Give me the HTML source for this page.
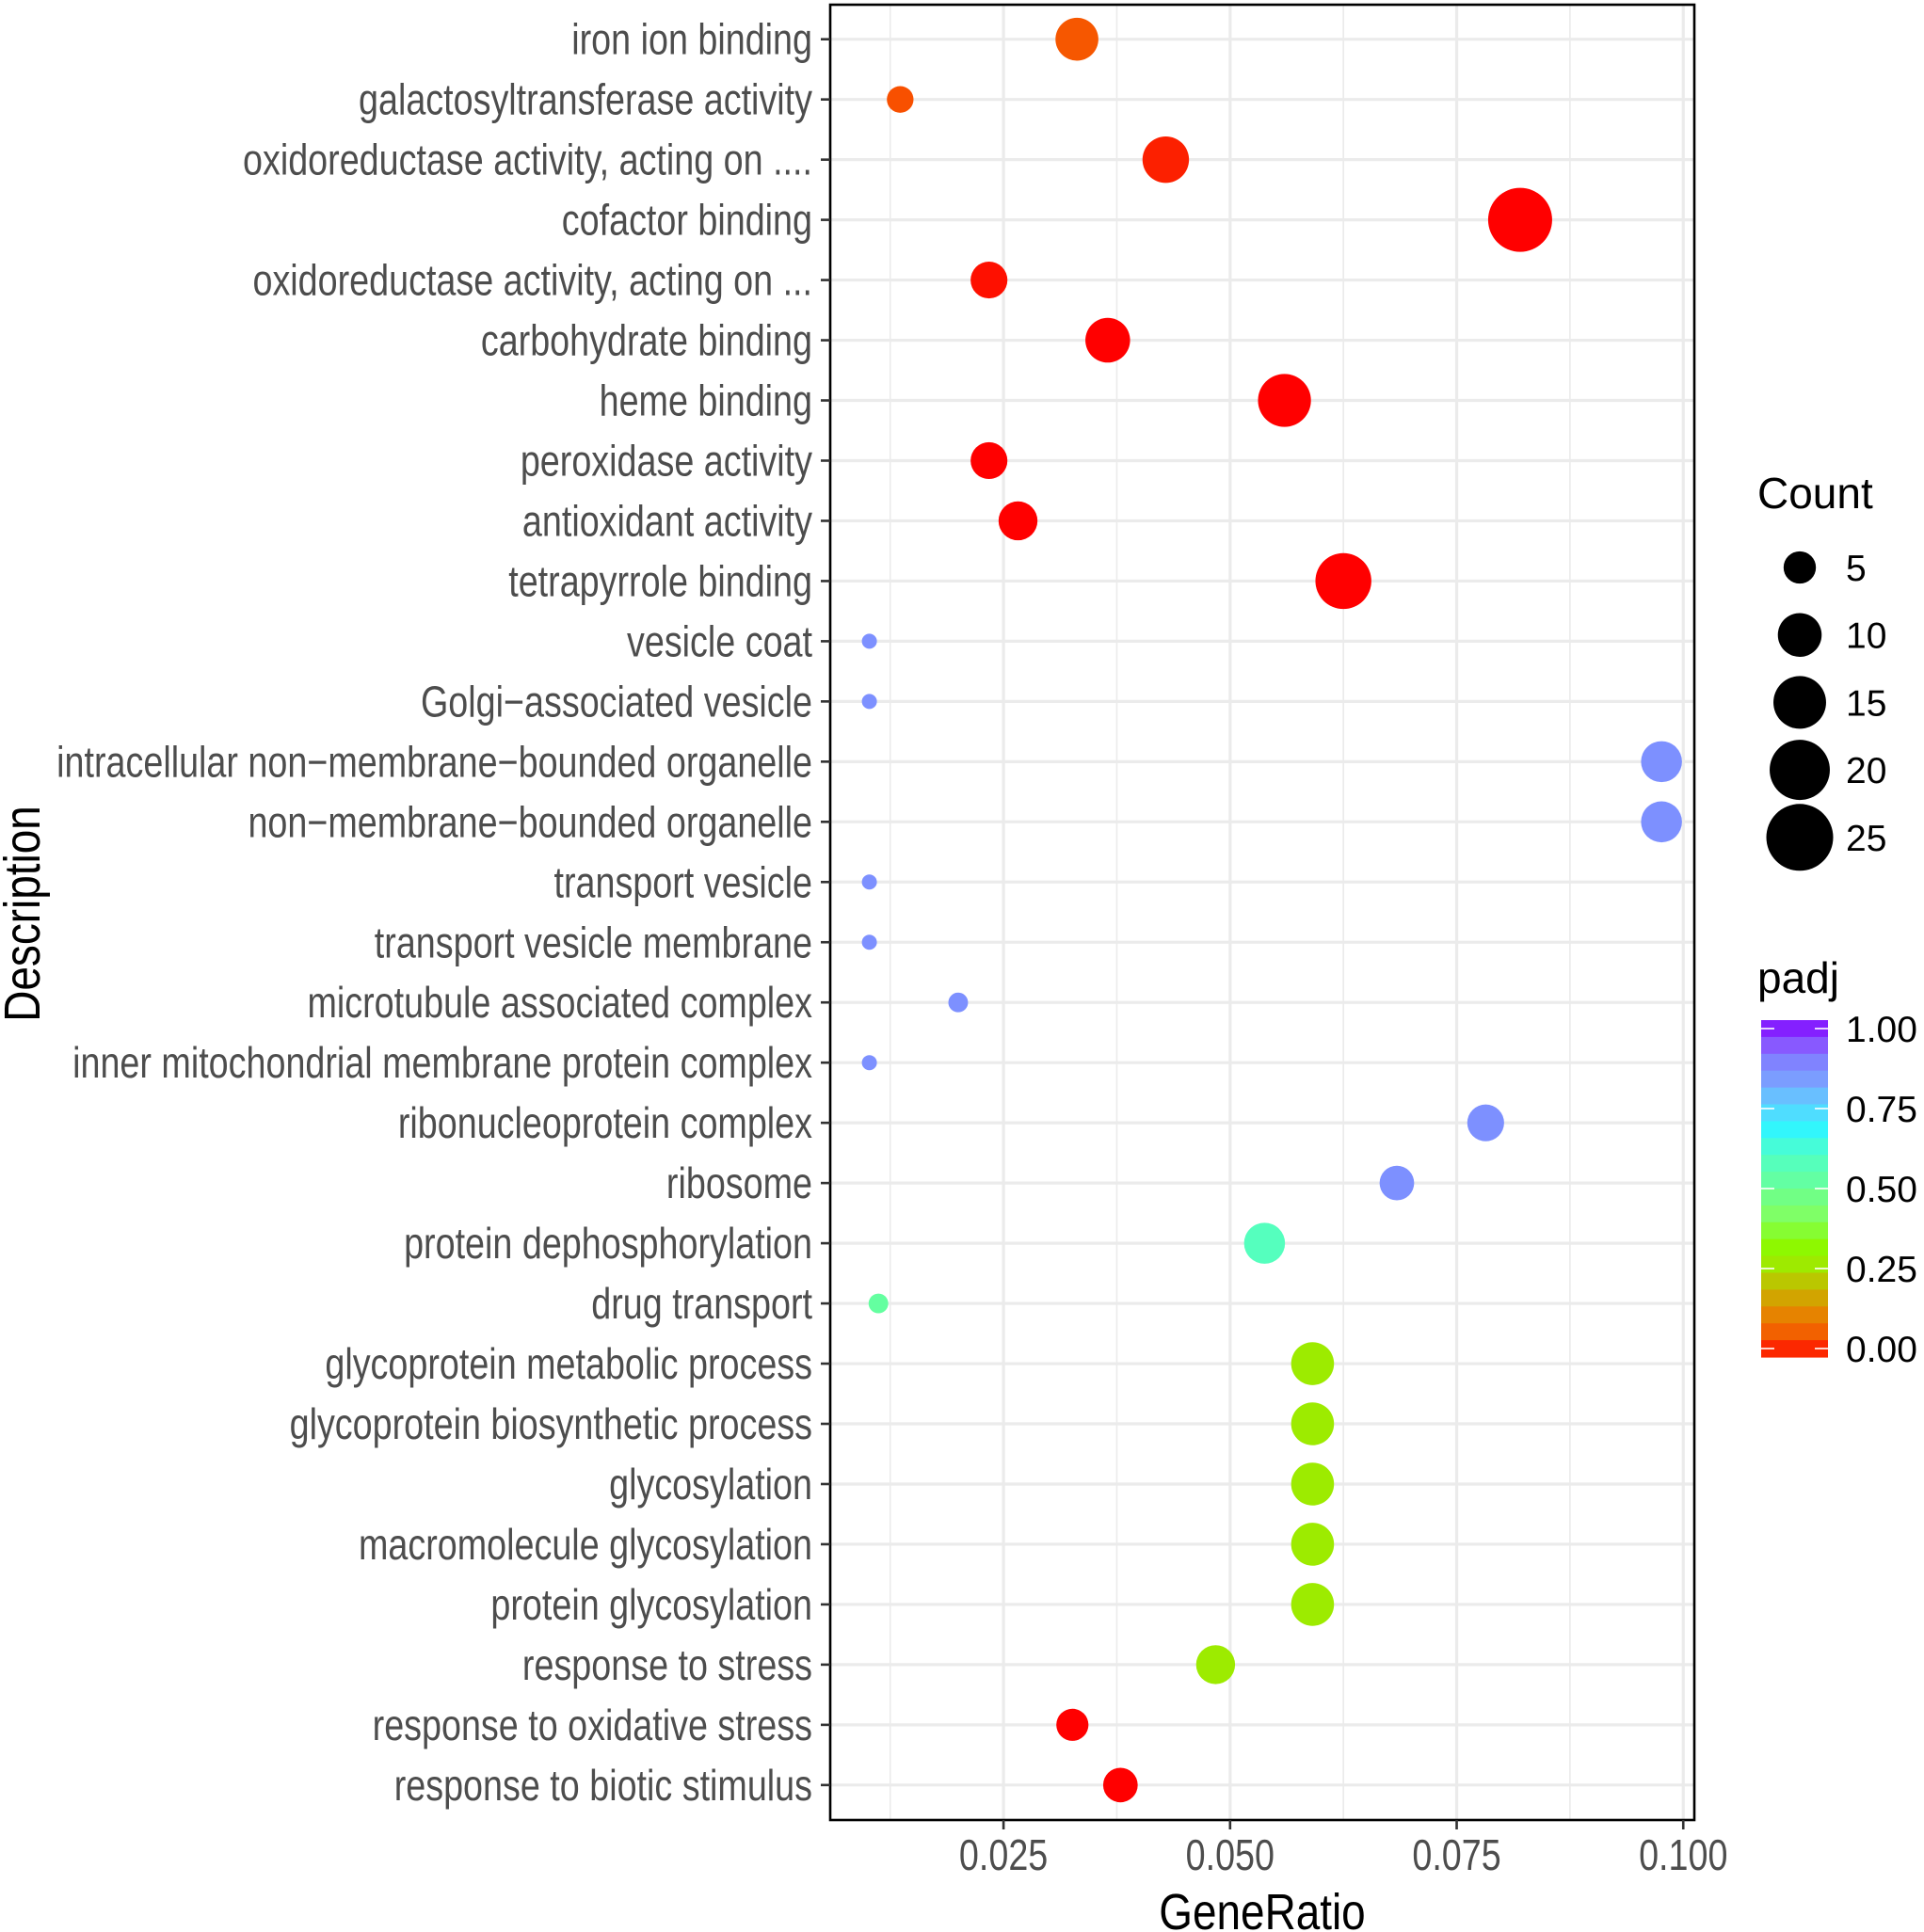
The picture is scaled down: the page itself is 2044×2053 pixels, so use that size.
<!DOCTYPE html>
<html><head><meta charset="utf-8"><style>
html,body{margin:0;padding:0;background:#fff}
svg{display:block}
.yl{font-family:"Liberation Sans Narrow","Liberation Sans",sans-serif;font-size:46px;fill:#4d4d4d}
.lg{font-family:"Liberation Sans",sans-serif;fill:#000}
</style></head><body>
<svg id="chart" width="2044" height="2053" viewBox="0 0 2044 2053" xmlns="http://www.w3.org/2000/svg">
<rect x="0" y="0" width="2044" height="2053" fill="#fff"/>
<g id="grid"></g><g id="points"></g><g id="axes"></g><g id="legend"></g>
</svg>
<script>
const categories = ["iron ion binding","galactosyltransferase activity","oxidoreductase activity, acting on ....","cofactor binding","oxidoreductase activity, acting on ...","carbohydrate binding","heme binding","peroxidase activity","antioxidant activity","tetrapyrrole binding","vesicle coat","Golgi\u2212associated vesicle","intracellular non\u2212membrane\u2212bounded organelle","non\u2212membrane\u2212bounded organelle","transport vesicle","transport vesicle membrane","microtubule associated complex","inner mitochondrial membrane protein complex","ribonucleoprotein complex","ribosome","protein dephosphorylation","drug transport","glycoprotein metabolic process","glycoprotein biosynthetic process","glycosylation","macromolecule glycosylation","protein glycosylation","response to stress","response to oxidative stress","response to biotic stimulus"];
const geneRatio = [0.0331,0.0136,0.0429,0.0820,0.0234,0.0365,0.0560,0.0234,0.0266,0.0625,0.0102,0.0102,0.0976,0.0976,0.0102,0.0102,0.0200,0.0102,0.0782,0.0684,0.0538,0.0112,0.0591,0.0591,0.0591,0.0591,0.0591,0.0484,0.0326,0.0379];
const counts = [11,4,13,25,8,12,17,8,9,19,1,1,10,10,1,1,2,1,8,7,10,2,11,11,11,11,11,9,6,7];
const padj = [0.06,0.05,0.02,0,0.01,0,0,0,0,0,0.85,0.85,0.85,0.85,0.85,0.85,0.85,0.85,0.85,0.85,0.58,0.52,0.28,0.28,0.28,0.28,0.28,0.28,0,0];
const xTicks = [0.025,0.050,0.075,0.100];
const xTickLabels = ["0.025","0.050","0.075","0.100"];
const sizeBreaks = [5,10,15,20,25];
const colorTicks = [0,0.25,0.5,0.75,1];
const colorTickLabels = ["0.00","0.25","0.50","0.75","1.00"];

const NS="http://www.w3.org/2000/svg";
const PL=882, PR=1800, PT=5, PB=1934;
const xMin=0.00588, xMax=0.10122;
const x = v => PL + (v - xMin)/(xMax - xMin)*(PR-PL);
const y0=41.7, dy=63.97;
const y = i => y0 + i*dy;
const rad = c => Math.sqrt(18.5 + 45.5*c);
const SX=0.82;
const stops=[[0,[255,0,0]],[0.05,[248,80,0]],[0.12,[232,128,0]],[0.2,[200,180,0]],[0.27,[160,232,0]],[0.33,[140,250,0]],[0.42,[128,255,100]],[0.52,[100,255,160]],[0.6,[80,255,200]],[0.68,[48,245,255]],[0.75,[96,208,255]],[0.82,[122,160,255]],[0.88,[128,128,255]],[0.94,[138,76,255]],[1,[127,0,255]]];
function col(p){for(let i=1;i<stops.length;i++){if(p<=stops[i][0]){const a=stops[i-1],b=stops[i];const t=(p-a[0])/(b[0]-a[0]);const c=a[1].map((v,k)=>Math.round(v+(b[1][k]-v)*t));return `rgb(${c.join(',')})`;}}return 'rgb(127,0,255)';}
function mk(tag,attrs,parent,text){const e=document.createElementNS(NS,tag);for(const k in attrs)e.setAttribute(k,attrs[k]);if(text!==undefined)e.textContent=text;parent.appendChild(e);return e;}

const grid=document.getElementById('grid');
mk('rect',{x:PL,y:PT,width:PR-PL,height:PB-PT,fill:'#fff'},grid);
const minor=[0.0125,0.0375,0.0625,0.0875];
minor.forEach(v=>{const l=mk('line',{x1:x(v),x2:x(v),y1:PT,y2:PB,stroke:'#ebebeb','stroke-width':1.6},grid);

});
xTicks.forEach(v=>{const l=mk('line',{x1:x(v),x2:x(v),y1:PT,y2:PB,stroke:'#ebebeb','stroke-width':3.2},grid);

});
categories.forEach((c,i)=>{const l=mk('line',{x1:PL,x2:PR,y1:y(i),y2:y(i),stroke:'#ebebeb','stroke-width':3.2},grid);

});

const pts=document.getElementById('points');
categories.forEach((c,i)=>{const e=mk('ellipse',{cx:x(geneRatio[i]),cy:y(i),rx:rad(counts[i]),ry:rad(counts[i]),fill:col(padj[i])},pts);

});

const ax=document.getElementById('axes');
const border=mk('rect',{x:PL,y:PT,width:PR-PL,height:PB-PT,fill:'none',stroke:'#000','stroke-width':2.6},ax);


categories.forEach((c,i)=>{
mk('line',{x1:PL-10,x2:PL,y1:y(i),y2:y(i),stroke:'#333','stroke-width':2.6},ax);
const t=mk('text',{x:0,y:0,'text-anchor':'end',class:'yl',transform:`translate(${PL-19},${y(i)+16}) scale(${SX},1)`},ax,c);

});
xTicks.forEach((v,i)=>{
mk('line',{x1:x(v),x2:x(v),y1:PB,y2:PB+10,stroke:'#333','stroke-width':2.6},ax);
const t=mk('text',{x:0,y:0,'text-anchor':'middle',class:'yl',transform:`translate(${x(v)},${PB+53}) scale(${SX},1)`},ax,xTickLabels[i]);

});
const xt=mk('text',{x:0,y:0,'text-anchor':'middle',class:'yl',style:'fill:#000;font-size:54px',transform:`translate(${(PL+PR)/2},2050) scale(0.85,1)`},ax,'GeneRatio');


const yt=mk('text',{x:0,y:0,'text-anchor':'middle',class:'yl',style:'fill:#000;font-size:54px',transform:'translate(42,971) rotate(-90) scale(0.85,1)'},ax,'Description');



const lg=document.getElementById('legend');
const ct=mk('text',{x:1867,y:540,class:'lg','font-size':46},lg,'Count');


sizeBreaks.forEach((s,i)=>{const cy=603+i*71.7;
const c=mk('ellipse',{cx:1912,cy:cy,rx:rad(s)+1.5,ry:rad(s)+1.5,fill:'#000'},lg);


const t=mk('text',{x:1961,y:cy+14,class:'lg','font-size':39},lg,String(s));

});
const pt=mk('text',{x:1867,y:1055,class:'lg','font-size':46},lg,'padj');


const BT=1084, BB=1442, BL=1871, BR=1942, T1=1093, T0=1433;
const nb=20;
for(let k=0;k<nb;k++){const yA=BT+k*(BB-BT)/nb;const pv=1-(k+0.5)/nb;
const r=mk('rect',{x:BL,y:yA,width:BR-BL,height:(BB-BT)/nb+0.6,fill:col(pv)},lg);

}
colorTicks.forEach((v,i)=>{const yy=T0-(T0-T1)*v;
mk('line',{x1:BL,x2:BL+14,y1:yy,y2:yy,stroke:'#fff','stroke-width':1.6},lg);
mk('line',{x1:BR-14,x2:BR,y1:yy,y2:yy,stroke:'#fff','stroke-width':1.6},lg);
const t=mk('text',{x:1961,y:yy+14,class:'lg','font-size':39},lg,colorTickLabels[i]);

});
</script>
</body></html>
